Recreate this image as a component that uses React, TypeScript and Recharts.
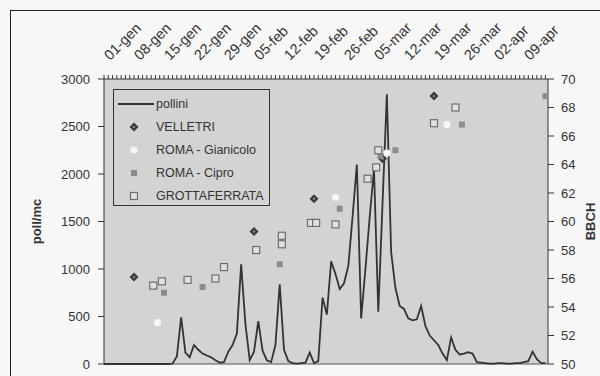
import { ComposedChart, Line, Scatter, XAxis, YAxis, CartesianGrid, Legend, ReferenceLine } from 'recharts';

// week labels on the top axis (01-gen .. 09-apr), one every 7 days
const weekLabels = ['01-gen', '08-gen', '15-gen', '22-gen', '29-gen', '05-feb', '12-feb', '19-feb', '26-feb', '05-mar', '12-mar', '19-mar', '26-mar', '02-apr', '09-apr'];

// daily pollen counts (poll/mc), day 0 = 01-gen
const pollini = [
  0, 0, 0, 0, 0, 0, 0, 0, 0, 0, 0, 0, 0, 0, 0, 0, 5,
  80, 490, 120, 70, 200, 150, 110, 90, 70, 40, 15, 20, 130, 200, 320, 1050, 420, 40, 130, 450, 140, 40, 20, 200, 840, 150, 30,
  10, 5, 10, 15, 120, 10, 30, 700, 520, 1080, 950, 790, 850, 1030, 1550, 2100, 480, 1000, 1550, 2050, 550, 1700, 2840, 1180,
  800, 610, 580, 480, 460, 470, 610, 400, 300, 250, 200, 110, 40, 280, 150, 100, 110, 125, 110, 20, 15, 10, 5, 5, 10, 10, 5, 5,
  10, 10, 20, 30, 130, 50, 10, 10,
];

// BBCH phenological stage per station: [day, stage]
const velletri = [[7, 56.1], [35, 59.3], [49, 61.6], [65, 64.4], [77, 68.8]];
const gianicolo = [[12.5, 52.9], [54, 61.7], [66, 64.8], [80, 66.8]];
const cipro = [[14, 55.0], [23, 55.4], [41, 57.0], [55, 60.9], [64.5, 64.6], [68, 65.0], [83.5, 66.8], [103, 68.8]];
const grottaferrata = [
  [11.5, 55.5], [13.5, 55.8], [19.5, 55.9], [26, 56.0], [28, 56.8], [35.5, 58.0], [41.5, 59.0], [41.5, 58.4],
  [48.3, 59.9], [49.5, 59.9], [54, 59.8], [61.5, 63.0], [63.5, 63.8], [64, 65.0], [77, 66.9], [82, 68.0],
];

const leftTicks = [0, 500, 1000, 1500, 2000, 2500, 3000];
const rightTicks = [50, 52, 54, 56, 58, 60, 62, 64, 66, 68, 70];

const lineData = pollini.map((v, i) => ({ day: i, pollini: v }));
const toPts = (arr: number[][]) => arr.map(([day, bbch]) => ({ day, bbch }));
const dayTicks = pollini.map((_, i) => i);

const bg = '#d3d3d3';
const ink = '#333';
const font = '"Liberation Sans", Arial, sans-serif';

const Diamond = (p: any) => (
  <g>
    <path d={`M${p.cx},${p.cy - 4.5}L${p.cx + 4.5},${p.cy}L${p.cx},${p.cy + 4.5}L${p.cx - 4.5},${p.cy}Z`} fill="#3a3a3a" />
    <circle cx={p.cx} cy={p.cy} r={1.2} fill="#888" />
  </g>
);
const WhiteDot = (p: any) => <circle cx={p.cx} cy={p.cy} r={3.6} fill="#f6f6f6" />;
const GreySquare = (p: any) => <rect x={p.cx - 3} y={p.cy - 3} width={6} height={6} fill="#8c8c8c" />;
const OpenSquare = (p: any) => <rect x={p.cx - 3.5} y={p.cy - 3.5} width={7} height={7} fill="#e0e0e0" stroke="#6e6e6e" strokeWidth={1.2} />;

const DateTick = ({ x, y, payload }: any) => {
  const d = payload.value;
  if (d % 7 !== 0) return <g />;
  const tx = x + 6;
  return (
    <text x={tx} y={y} transform={`rotate(-45, ${tx}, ${y})`} textAnchor="start" fontSize={14.5} fill={ink} fontFamily={font}>
      {weekLabels[d / 7]}
    </text>
  );
};

const legendRows = [
  { name: 'pollini', mark: <line x1={2} y1={8} x2={38} y2={8} stroke={ink} strokeWidth={2} /> },
  { name: 'VELLETRI', mark: <Diamond cx={18} cy={8} /> },
  { name: 'ROMA - Gianicolo', mark: <WhiteDot cx={18} cy={8} /> },
  { name: 'ROMA - Cipro', mark: <GreySquare cx={18} cy={8} /> },
  { name: 'GROTTAFERRATA', mark: <OpenSquare cx={18} cy={8} /> },
];

const renderLegend = () => (
  <div style={{ border: `1.5px solid ${ink}`, background: bg, width: 157, height: 117, boxSizing: 'border-box', paddingTop: 2 }}>
    {legendRows.map(r => (
      <div key={r.name} style={{ display: 'flex', alignItems: 'center', height: 23 }}>
        <svg width={40} height={16} style={{ marginLeft: 2 }}>{r.mark}</svg>
        <span style={{ fontSize: 12.5, color: ink, fontFamily: font, marginLeft: 0 }}>{r.name}</span>
      </div>
    ))}
  </div>
);

export default function App() {
  return (
    <div style={{ position: 'absolute', left: 0, top: 0, width: 600, height: 376, background: '#f7f7f7', overflow: 'hidden' }}>
      <div style={{ position: 'absolute', left: 10, top: 10, width: 600, height: 400, borderLeft: '1.5px solid #222', borderTop: '1.5px solid #222' }} />
      <ComposedChart width={600} height={376} margin={{ top: 19, right: 12, left: 44, bottom: 12 }} style={{ position: 'absolute', left: 0, top: 0 }}>
        <CartesianGrid fill={bg} horizontal={false} vertical={false} />
        <XAxis
          xAxisId={0}
          type="number"
          dataKey="day"
          orientation="top"
          domain={[0, 103.6]}
          ticks={dayTicks}
          interval={0}
          tick={<DateTick />}
          tickSize={4}
          tickMargin={14}
          height={60}
          stroke={ink}
          allowDataOverflow
        />
        <YAxis
          yAxisId="left"
          domain={[0, 3000]}
          ticks={leftTicks}
          tickSize={6}
          tickMargin={8}
          width={60}
          stroke={ink}
          tick={{ fontSize: 13, fill: ink, fontFamily: font }}
          label={{ value: 'poll/mc', angle: -90, position: 'insideLeft', offset: -8, style: { fontSize: 13, fontWeight: 'bold', fill: ink, fontFamily: font, textAnchor: 'middle' } }}
        />
        <YAxis
          yAxisId="right"
          orientation="right"
          domain={[50, 70]}
          ticks={rightTicks}
          tickSize={6}
          tickMargin={7}
          width={40}
          stroke={ink}
          tick={{ fontSize: 13, fill: ink, fontFamily: font }}
          label={{ value: 'BBCH', angle: -90, position: 'insideRight', offset: -2, style: { fontSize: 13, fontWeight: 'bold', fill: ink, fontFamily: font, textAnchor: 'middle' } }}
        />
        <ReferenceLine yAxisId="left" y={0} stroke="#555" />
        <Legend
          content={renderLegend}
          layout="vertical"
          align="center"
          verticalAlign="middle"
          wrapperStyle={{ left: 113, top: 89, width: 157, height: 117 }}
        />
        <Line yAxisId="left" data={lineData} dataKey="pollini" name="pollini" type="linear" stroke={ink} strokeWidth={1.8} dot={false} isAnimationActive={false} />
        <Scatter yAxisId="right" data={toPts(velletri)} dataKey="bbch" name="VELLETRI" shape={<Diamond />} isAnimationActive={false} />
        <Scatter yAxisId="right" data={toPts(gianicolo)} dataKey="bbch" name="ROMA - Gianicolo" shape={<WhiteDot />} isAnimationActive={false} />
        <Scatter yAxisId="right" data={toPts(cipro)} dataKey="bbch" name="ROMA - Cipro" shape={<GreySquare />} isAnimationActive={false} />
        <Scatter yAxisId="right" data={toPts(grottaferrata)} dataKey="bbch" name="GROTTAFERRATA" shape={<OpenSquare />} isAnimationActive={false} />
      </ComposedChart>
    </div>
  );
}
